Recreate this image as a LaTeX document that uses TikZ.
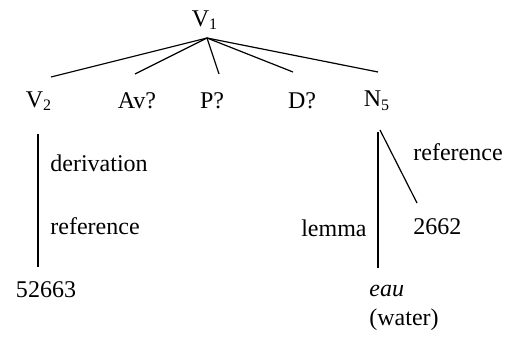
\documentclass[tikz,border=0pt]{standalone}
\usepackage{fontspec}
\setmainfont{Liberation Serif}
\usetikzlibrary{positioning}
\tikzset{
  lbl/.style={inner sep=0pt, font=\fontsize{12}{14.5}\selectfont},
  branch/.style={line width=0.6pt},
  link/.style={line width=1.3pt}
}

\begin{document}
\begin{tikzpicture}[x=0.5pt, y=-0.5pt]
    \useasboundingbox (0,0) rectangle (507,337);

    % Root and its daughters
    \node[lbl] (v1) at (205,20) {V\textsubscript{1}};
    \node[lbl] (v2) at (39,101) {V\textsubscript{2}};
    \node[lbl] (av) at (137,101) {Av?};
    \node[lbl] (p)  at (212,101) {P?};
    \node[lbl] (d)  at (302,101) {D?};
    \node[lbl] (n5) at (377,101) {N\textsubscript{5}};

    \coordinate (apex) at (207,38);
    \coordinate (t2) at (51,77);
    \coordinate (ta) at (135,74);
    \coordinate (tp) at (219,74);
    \coordinate (td) at (293,72);
    \coordinate (t5) at (378,72);
    \foreach \leaf in {t2,ta,tp,td,t5} {
        \draw[branch] (apex) -- (\leaf);
    }

    % Left link: derivation / reference
    \coordinate (ltop) at (38,134);
    \coordinate (lbot) at (38,267);
    \draw[link] (ltop) -- (lbot);
    \node[lbl, anchor=west] (deriv) at (50,163) {derivation};
    \node[lbl, anchor=west] (lref)  at (50,226) {reference};
    \node[lbl] (num1) at (46,290) {52663};

    % Right links: lemma and reference
    \coordinate (rtop) at (378,132);
    \coordinate (rbot) at (378,268);
    \draw[link] (rtop) -- (rbot);
    \node[lbl, anchor=east] (lemma) at (367,228) {lemma};
    \node[lbl, anchor=north west, align=left] (eau) at (369,285) {\textit{eau}\\(water)};

    \coordinate (stop) at (380,130);
    \coordinate (sbot) at (417,203);
    \draw[branch] (stop) -- (sbot);
    \node[lbl, anchor=west] (rref) at (413,152) {reference};
    \node[lbl, anchor=west] (num2) at (413,227) {2662};
\end{tikzpicture}
\end{document}
